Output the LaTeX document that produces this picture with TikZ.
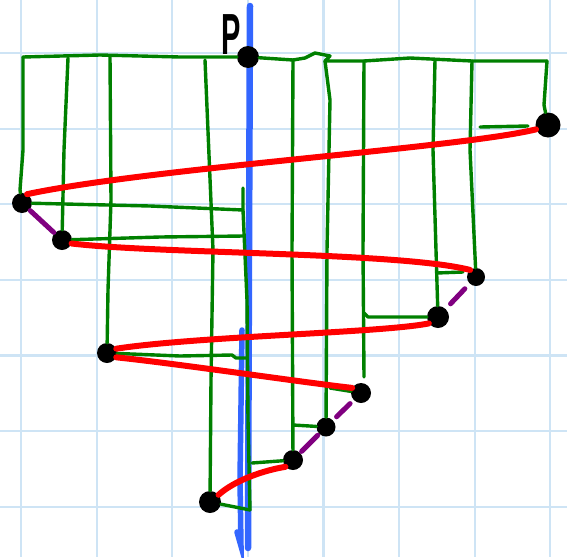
\documentclass[tikz,border=0pt]{standalone}
\usepackage{fontspec}
\setmainfont{Liberation Sans}
\definecolor{gridblue}{RGB}{206,228,245}
\definecolor{axisblue}{RGB}{51,102,255}
\definecolor{gline}{RGB}{0,128,0}
\definecolor{rline}{RGB}{255,0,0}
\definecolor{pline}{RGB}{128,0,128}
\tikzset{
  dot/.style={circle,fill=black,inner sep=0pt,minimum size=#1},
  dot/.default=20pt,
  gl/.style={draw=gline,line width=3.4pt,line cap=round,line join=round},
  rl/.style={draw=rline,line width=6pt,line cap=round},
  pl/.style={draw=pline,line width=5pt,line cap=round},
  bl/.style={draw=axisblue,line width=6.5pt,line cap=round},
}
\begin{document}
\begin{tikzpicture}[x=1pt,y=-1pt]
\useasboundingbox (0,0) rectangle (567,557);
\fill[white] (0,0) rectangle (567,557);
% grid
\foreach \gx in {21,96.6,172.2,247.8,323.4,399,474.6,550.2}
  \draw[gridblue,line width=2.2pt] (\gx,0) -- (\gx,557);
\foreach \gy in {53,128.6,204.2,279.8,355.4,431,506.6}
  \draw[gridblue,line width=2.2pt] (0,\gy) -- (567,\gy);
% blue axis
\coordinate (bt) at (250,6);
\coordinate (bb) at (248,548);
\coordinate (bt2) at (242,330);
\coordinate (bb2) at (241,546);
\draw[bl] (bt) -- (249,250) -- (bb);
\draw[bl,line width=5.5pt] (bt2) -- (240,480) -- (bb2) -- (237,532);
% dots
\node[dot=22pt] (P) at (248,57) {};
\node[dot=25pt] (A1) at (548,125) {};
\node[dot] (A2) at (22,203) {};
\node[dot] (A3) at (62,240) {};
\node[dot=18pt] (A4) at (476,277) {};
\node[dot=22pt] (A5) at (438,317) {};
\node[dot] (A6) at (107,353) {};
\node[dot] (A7) at (361,393) {};
\node[dot=19pt] (A8) at (326,427) {};
\node[dot] (A9) at (293,460) {};
\node[dot=22pt] (A10) at (210,502) {};
\node (Plab) at (231,35) {\fontsize{58}{58}\selectfont\bfseries\scalebox{0.5}[1]{P}};
% top green line
\coordinate (t1) at (23,57);
\coordinate (t2) at (68,58);
\coordinate (t3) at (110,56);
\coordinate (t4) at (205,60);
\coordinate (t5) at (293,60);
\coordinate (t6) at (325,61);
\coordinate (t7) at (364,61);
\coordinate (t8) at (435,60);
\coordinate (t9) at (472,61);
\coordinate (t10) at (547,61);
\draw[gl] (t1) -- (100,55) -- (180,57) -- (P) -- (t5) -- (305,58) -- (315,53) -- (330,56) -- (t6) -- (t7) -- (410,58) -- (t9) -- (t10);
% verticals
\draw[gl] (t1) -- (23,150) -- (20,190) -- (A2);
\draw[gl] (t2) -- (64,150) -- (A3);
\draw[gl] (t3) -- (111,200) -- (108,290) -- (A6);
\draw[gl] (t4) -- (213,250) -- (211,380) -- (A10);
\draw[gl] (t5) -- (292,250) -- (A9);
\draw[gl] (t6) -- (330,100) -- (327,250) -- (A8);
\draw[gl] (t7) -- (363,250) -- (364,377);
\draw[gl] (t8) -- (433,150) -- (A5);
\draw[gl] (t9) -- (470,150) -- (A4);
\draw[gl] (t10) -- (544,105) -- (A1);
% green along axis
\coordinate (ga1) at (243,188);
\coordinate (ga2) at (250,510);
\draw[gl] (ga1) -- (243,210) -- (247,300) -- (248,420) -- (ga2);
% horizontal projections
\coordinate (h1a) at (480,127);
\coordinate (h1b) at (528,126);
\draw[gl] (h1a) -- (h1b);
\draw[gl] (A2) -- (150,206) -- (243,210);
\draw[gl] (A3) -- (160,237) -- (244,236);
\coordinate (h4a) at (437,273);
\coordinate (h4b) at (463,272);
\draw[gl] (h4a) -- (h4b);
\coordinate (h5) at (364,313);
\draw[gl] (h5) -- (368,317) -- (A5);
\draw[gl] (A6) -- (180,356) -- (232,355) -- (236,358) -- (246,358);
\coordinate (h7) at (330,388);
\draw[gl] (h7) -- (A7);
\coordinate (h8) at (293,425);
\draw[gl] (h8) -- (A8);
\coordinate (h9) at (252,463);
\draw[gl] (h9) -- (A9);
\draw[gl] (A10) -- (ga2);
% red spiral
\draw[rl] (A1.200) .. controls (460,148) and (150,168) .. (A2.60);
\draw[rl] (A3.-20) .. controls (160,254) and (400,252) .. (A4.130);
\draw[rl] (A5.215) .. controls (380,333) and (200,336) .. (A6.25);
\draw[rl] (A6.-25) .. controls (180,364) and (300,382) .. (A7.150);
\draw[rl] (A9.222) .. controls (265,470) and (235,480) .. (A10.40);
% purple
\draw[pl,shorten <=1pt,shorten >=1pt] (A2) -- (A3);
\draw[pl,shorten <=7pt,shorten >=7pt] (A4) -- (A5);
\draw[pl,shorten <=5pt,shorten >=5pt] (A7) -- (A8);
\draw[pl,shorten <=2pt,shorten >=2pt] (A8) -- (A9);
\end{tikzpicture}
\end{document}
